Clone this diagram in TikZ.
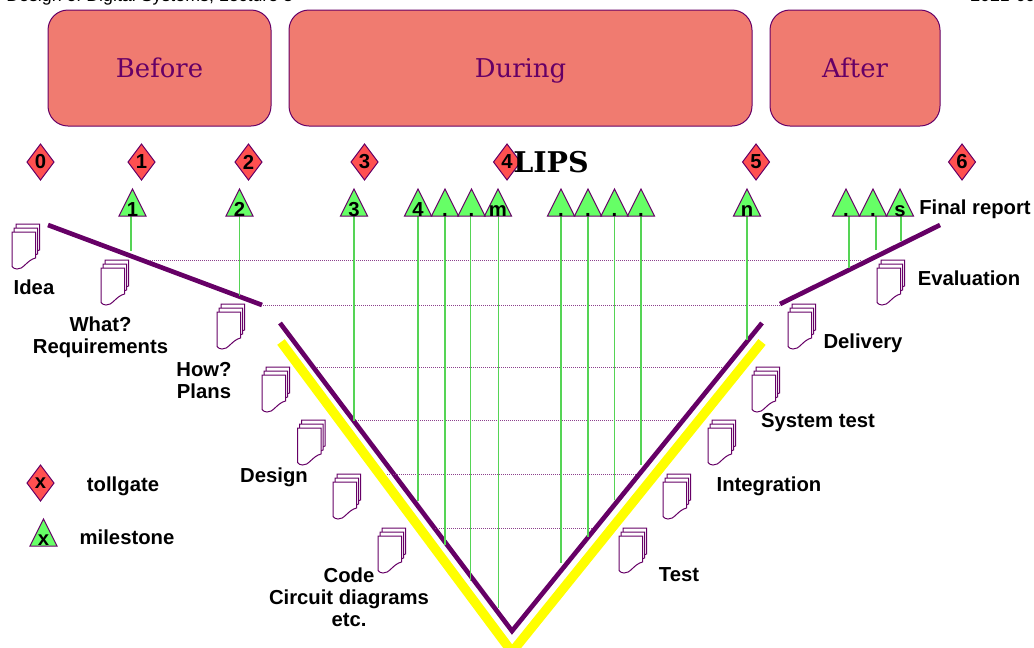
\documentclass[tikz,border=0pt]{standalone}
\usepackage{fontspec}
\setmainfont{Liberation Sans}
\newfontfamily\serifface{DejaVu Serif}
\usetikzlibrary{shapes.geometric}
\definecolor{lipspurple}{HTML}{660066}
\definecolor{phasered}{HTML}{F07B70}
\definecolor{gatered}{HTML}{FF5050}
\definecolor{stonegreen}{HTML}{66FF66}
\definecolor{linkgreen}{HTML}{55D455}
\definecolor{vyellow}{HTML}{FFFF00}
\tikzset{
  phase/.style={draw=lipspurple,fill=phasered,rounded corners=15pt,line width=.75pt},
  phasetext/.style={anchor=base,text=lipspurple,font=\serifface\fontsize{19.4}{22}\selectfont},
  tollgate/.style={diamond,draw=lipspurple,fill=gatered,line width=.75pt,aspect=.75,inner sep=0pt,outer sep=0pt,minimum width=20.25pt,minimum height=27pt,font=\bfseries\fontsize{15.2}{15}\selectfont},
  milestone/.style={isosceles triangle,shape border rotate=90,isosceles triangle stretches,anchor=lower side,draw=lipspurple,fill=stonegreen,line width=.75pt,inner sep=0pt,outer sep=0pt,minimum width=20.25pt,minimum height=20.25pt},
  tag/.style={anchor=base,font=\bfseries\fontsize{15.2}{15}\selectfont,inner sep=0pt},
  lab/.style={font=\bfseries\fontsize{15.2}{16.5}\selectfont,align=center,inner sep=0pt},
  link/.style={linkgreen,line width=1pt},
  level/.style={lipspurple!75,line width=.75pt,dash pattern=on .75pt off .75pt},
  thickv/.style={lipspurple,line width=3.5pt,line join=miter},
  pics/docstack/.style={code={
    \foreach \dx/\dy in {4/-8,2/-4,0/0}
      \draw[lipspurple,fill=white,line width=.75pt,shift={(\dx,\dy)}] (0,0) -- (23.5,0) -- (23.5,26)
        .. controls (15,28) and (11,38) .. (5,37) .. controls (3,37) and (1,36) .. (0,34.5) -- cycle;
  }}
}
\begin{document}
\begin{tikzpicture}[x=.75pt,y=-.75pt]
\clip (0,0) rectangle (1034,647);
\node[anchor=base west,inner sep=0pt,font=\fontsize{13.35}{14}\selectfont] (title) at (6,1) {Design of Digital Systems, Lecture 3};
\node[anchor=base west,inner sep=0pt,font=\fontsize{13.35}{14}\selectfont] (date) at (970,1) {2021-09};
% phases
\draw[phase] (48,10) rectangle (271,126);
\draw[phase] (289,10) rectangle (752,126);
\draw[phase] (770,10) rectangle (940,126);
\node[phasetext] (before) at (159.5,77) {Before};
\node[phasetext] (during) at (520.5,77) {During};
\node[phasetext] (after) at (855,77) {After};
% the V
\draw[vyellow,line width=7pt,line join=miter] (281,342) -- (512,652) -- (762,342);
\draw[thickv] (280,323) -- (512,631) -- (762,323);
\draw[thickv] (48,225) -- (262,305);
\draw[thickv] (940,225) -- (780,304);
\foreach \ya/\xa/\xb in {260.5/150/862,305/263/780,367/317/723,420.5/354/680,474/387/637,528/435/592}
  \draw[level] (\xa,\ya) -- (\xb,\ya);
% tollgates
\foreach \x/\name in {40.5/0,141.5/1,248.5/2,364.5/3,507/4,756/5,962/6}
  \node[tollgate] (gate\name) at (\x,162) {\raisebox{-.75pt}{\name}};
\node[font=\serifface\bfseries\fontsize{21.4}{24}\selectfont,inner sep=0pt] (lips) at (551,162) {LIPS};
% milestones
\foreach \x/\lx/\ly/\name/\txt in {132.5/131/251/a/1,239.5/239.5/296/b/2,354/354/421/c/3,418/418/501/d/4,445/445/545/e/.,471.5/470.5/581/f/.,498/498.5/608/g/m,561/561/563/h/.,588/588/537/i/.,614.5/614.5/500/j/.,641/641/465/k/.,747/747/340/l/n,846/849/268/o/.,873/876/250/p/.,900/901/241/q/s}{
  \coordinate (end\name) at (\lx,\ly);
  \draw[link] (\lx,216) -- (end\name);
  \node[milestone] (stone\name) at (\x,216) {};
  \node[tag] (tag\name) at (\x,216) {\txt};
}
% documents
\foreach \x/\y in {12/232,101/268,217/312,262/375,297.5/428,333/482,378/536,619/536,663/482,708/428,752/375,788/312,877/268}
  \pic at (\x,\y) {docstack};
\node[lab] (idea) at (34,287) {Idea};
\node[lab] (what) at (100.5,337) {What?\\Requirements};
\node[lab] (how) at (204,381) {How?\\Plans};
\node[lab] (design) at (274,477) {Design};
\node[lab] (code) at (349,597.5) {Code\\Circuit diagrams\\etc.};
\node[lab] (test) at (679,575) {Test};
\node[lab] (integration) at (769,486) {Integration};
\node[lab] (system) at (818,423) {System test};
\node[lab] (delivery) at (863,343) {Delivery};
\node[lab] (evaluation) at (969,278) {Evaluation};
\node[lab] (final) at (975,209) {Final report};
% legend
\node[tollgate] (gatex) at (40.5,483) {\raisebox{-1.5pt}{x}};
\node[milestone] (stonex) at (43.5,546) {};
\node[tag] (tagx) at (43.5,545) {x};
\node[lab] (tollgate) at (123,486) {tollgate};
\node[lab] (milestone) at (127,537.5) {milestone};
\end{tikzpicture}
\end{document}
